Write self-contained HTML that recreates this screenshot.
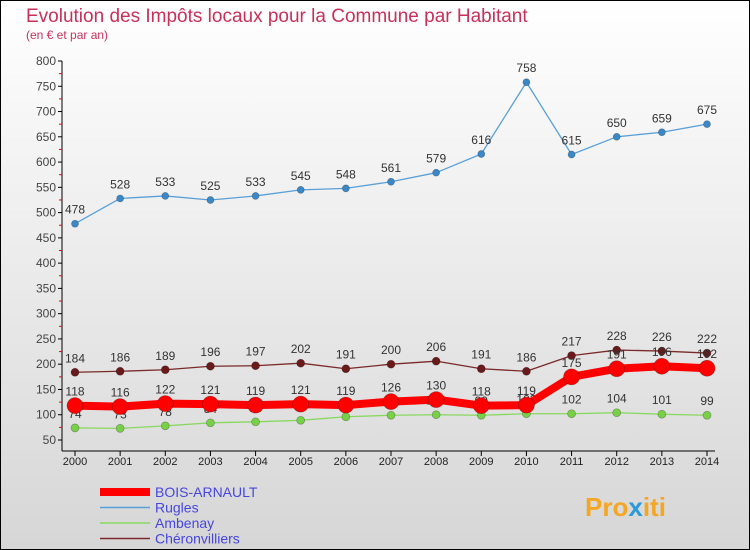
<!DOCTYPE html>
<html><head><meta charset="utf-8"><style>
body{margin:0;}
svg{display:block;font-family:"Liberation Sans",sans-serif;}
</style></head><body>
<svg id="c" width="750" height="550" xmlns="http://www.w3.org/2000/svg">
<defs><linearGradient id="bg" x1="0" y1="0" x2="0" y2="1"><stop offset="0" stop-color="#ffffff"/><stop offset="1" stop-color="#d6d6d6"/></linearGradient></defs>
<rect x="0.5" y="0.5" width="749" height="549" fill="url(#bg)" stroke="#000"/>
<text x="26" y="22" font-size="19" fill="#c8305a">Evolution des Impôts locaux pour la Commune par Habitant</text>
<text x="26" y="39" font-size="12" fill="#c8305a">(en € et par an)</text>
<g id="axes"></g><g id="series"></g><g id="legend"></g>
<text x="585" y="516" font-size="26" font-weight="bold" fill="#f5a623">Pro<tspan fill="#2a9ad8">x</tspan>iti</text>
</svg>
<script>
const years=[2000,2001,2002,2003,2004,2005,2006,2007,2008,2009,2010,2011,2012,2013,2014];
const yTicks=[50,100,150,200,250,300,350,400,450,500,550,600,650,700,750,800];
const bois=[118,116,122,121,119,121,119,126,130,118,119,175,191,196,192];
const rugles=[478,528,533,525,533,545,548,561,579,616,758,615,650,659,675];
const ambenay=[74,73,78,84,86,89,96,99,100,99,102,102,104,101,99];
const cheron=[184,186,189,196,197,202,191,200,206,191,186,217,228,226,222];
const NS="http://www.w3.org/2000/svg";
function X(i){return 75+i*(707-75)/14;}
function Y(v){return 440-(v-50)*(440-61)/750;}
function mk(t,a,p){const e=document.createElementNS(NS,t);for(const k in a)e.setAttribute(k,a[k]);(p||document.getElementById('c')).appendChild(e);return e;}
const ax=document.getElementById('axes');
let l=mk('line',{x1:62,y1:61,x2:62,y2:451,stroke:'#000'},ax);


l=mk('line',{x1:62,y1:451,x2:715,y2:451,stroke:'#000'},ax);


yTicks.forEach(v=>{
 mk('line',{x1:58,y1:Y(v),x2:62,y2:Y(v),stroke:'#000'},ax);
 if(v<800)mk('line',{x1:59,y1:Y(v+25),x2:62,y2:Y(v+25),stroke:'#e00'},ax);
 const t=mk('text',{x:56,y:Y(v)+4,'font-size':12,fill:'#444','text-anchor':'end'},ax);t.textContent=v;
 
 
});
years.forEach((y,i)=>{
 mk('line',{x1:X(i),y1:451,x2:X(i),y2:456,stroke:'#000'},ax);
 const t=mk('text',{x:X(i),y:465,'font-size':11,fill:'#222','text-anchor':'middle'},ax);t.textContent=y;
 
 
});
const sg=document.getElementById('series');
function draw(name,data,color,w,r,dot){
 const g=mk('g',{},sg);
 
 
 mk('polyline',{points:data.map((v,i)=>X(i)+','+Y(v)).join(' '),fill:'none',stroke:color,'stroke-width':w,'stroke-linejoin':'round'},g);
 data.forEach((v,i)=>{
  const c=mk('circle',{cx:X(i),cy:Y(v),r:r,fill:dot,stroke:'rgba(0,0,0,0.3)','stroke-width':0.7},g);
  
  
  const t=mk('text',{x:X(i),y:Y(v)-10,'font-size':12,fill:'#333','text-anchor':'middle'},g);t.textContent=v;
  
  
 });
}
draw('rugles',rugles,'#5aa0d8',1.3,3.5,'#3a88c8');
draw('cheronvilliers',cheron,'#7a2a2a',1.3,4,'#6a1a1a');
draw('ambenay',ambenay,'#88d860',1.3,4,'#78d048');
draw('bois-arnault',bois,'#f00',8,8,'#f00');
const lg=document.getElementById('legend');
const items=[['BOIS-ARNAULT','#f00',8],['Rugles','#5aa0d8',1.5],['Ambenay','#88d860',1.5],['Chéronvilliers','#7a2a2a',1.5]];
items.forEach((it,i)=>{
 const y=492+i*15.5;
 const g=mk('g',{},lg);
 
 
 mk('line',{x1:100,y1:y,x2:150,y2:y,stroke:it[1],'stroke-width':it[2]},g);
 const t=mk('text',{x:155,y:y+5,'font-size':14,fill:'#4646e0'},g);t.textContent=it[0];
});
</script>
</body></html>
